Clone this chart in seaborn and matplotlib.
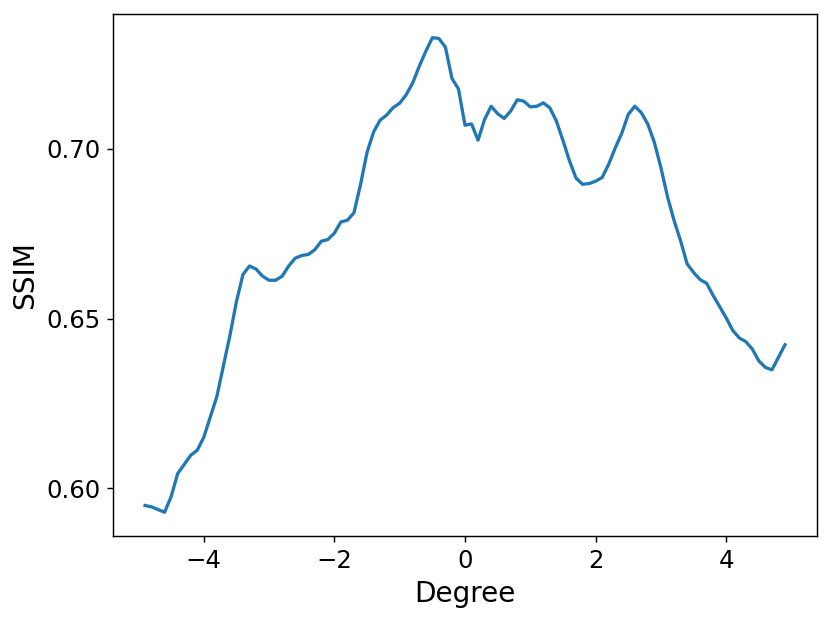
import numpy as np
import pandas as pd
import matplotlib
matplotlib.use("Agg")
import matplotlib.pyplot as plt
import seaborn as sns

degree = [round(-4.9 + 0.1 * i, 1) for i in range(99)]
ssim = [
    0.5949, 0.5945, 0.5937, 0.5929, 0.5975, 0.6043, 0.6070, 0.6097, 0.6112, 0.6150,
    0.6210, 0.6270, 0.6360, 0.6450, 0.6550, 0.6630, 0.6655, 0.6646, 0.6625, 0.6613,
    0.6613, 0.6625, 0.6655, 0.6678, 0.6686, 0.6689, 0.6703, 0.6728, 0.6733, 0.6752,
    0.6785, 0.6790, 0.6812, 0.6895, 0.6990, 0.7050, 0.7085, 0.7100, 0.7122, 0.7135,
    0.7160, 0.7195, 0.7244, 0.7288, 0.7328, 0.7326, 0.7300, 0.7208, 0.7177, 0.7070,
    0.7074, 0.7026, 0.7087, 0.7126, 0.7104, 0.7090, 0.7112, 0.7145, 0.7141, 0.7124,
    0.7126, 0.7136, 0.7121, 0.7082, 0.7025, 0.6965, 0.6914, 0.6896, 0.6898, 0.6905,
    0.6916, 0.6955, 0.7003, 0.7046, 0.7102, 0.7126, 0.7107, 0.7073, 0.7019, 0.6945,
    0.6860, 0.6790, 0.6730, 0.6662, 0.6636, 0.6615, 0.6604, 0.6568, 0.6535, 0.6502,
    0.6465, 0.6443, 0.6432, 0.6410, 0.6375, 0.6356, 0.6349, 0.6386, 0.6423,
]

df = pd.DataFrame({"Degree": degree, "SSIM": ssim})

fig = plt.figure(figsize=(830 / 130, 619 / 130), dpi=130)
ax = fig.add_axes([113 / 830, 1 - 536 / 619, (817 - 113) / 830, (536 - 14) / 619])
sns.lineplot(data=df, x="Degree", y="SSIM", ax=ax, color="#1f77b4", linewidth=1.8)
ax.set_yticks([0.60, 0.65, 0.70])
ax.set_xticks([-4, -2, 0, 2, 4])
ax.tick_params(labelsize=13.5)
ax.set_xlabel("Degree", fontsize=15.5)
ax.set_ylabel("SSIM", fontsize=15.5)
fig.savefig("out.png", dpi=130)
